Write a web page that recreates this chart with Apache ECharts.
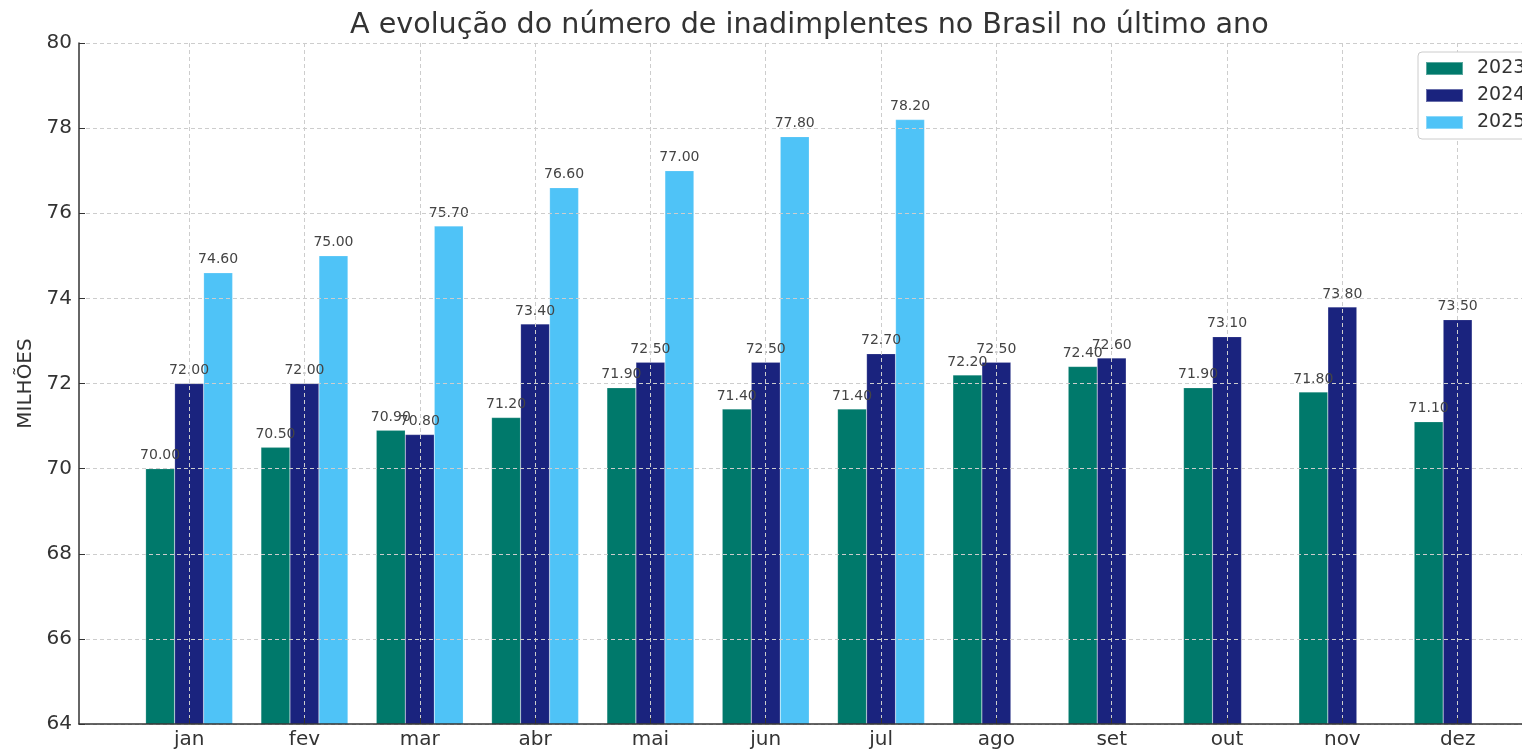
<!DOCTYPE html>
<html>
<head>
<meta charset="utf-8">
<script src="https://cdn.jsdelivr.net/npm/echarts@6/dist/echarts.min.js"></script>
<style>
html, body { margin: 0; padding: 0; background: #fff; }
#chart { width: 1522px; height: 752px; }
</style>
</head>
<body>
<div id="chart"></div>
<script>
var months = ["jan", "fev", "mar", "abr", "mai", "jun", "jul", "ago", "set", "out", "nov", "dez"];
var years = ["2023", "2024", "2025"];
var v2023 = [70.0, 70.5, 70.9, 71.2, 71.9, 71.4, 71.4, 72.2, 72.4, 71.9, 71.8, 71.1];
var v2024 = [72.0, 72.0, 70.8, 73.4, 72.5, 72.5, 72.7, 72.5, 72.6, 73.1, 73.8, 73.5];
var v2025 = [74.6, 75.0, 75.7, 76.6, 77.0, 77.8, 78.2];
var colors = ["#00796b", "#1a237e", "#4fc3f7"];

var font = "DejaVu Sans";
var chart = echarts.init(document.getElementById("chart"));

function toPoints(arr) {
	return arr.map(function(v, i) { return [i, v]; });
}

var seriesData = [v2023, v2024, v2025];
var series = [];
for (var s = 0; s < years.length; s++) {
	series.push({
		name: years[s],
		type: "bar",
		data: toPoints(seriesData[s]),
		barWidth: 29,
		barGap: "0%",
		itemStyle: { color: colors[s], borderColor: "rgba(255,255,255,0.35)", borderWidth: 0.5 },
		label: {
			show: true,
			position: "top",
			distance: 6,
			fontFamily: font,
			fontSize: 14,
			color: "#444",
			formatter: function(p) { return p.value[1].toFixed(2); }
		}
	});
}

var tickIdx = months.map(function(m, i) { return i; });

chart.setOption({
	backgroundColor: "#fff",
	animation: false,
	title: {
		text: "A evolução do número de inadimplentes no Brasil no último ano",
		left: 345,
		top: 6,
		textStyle: { fontFamily: font, fontSize: 28.6, fontWeight: "normal", color: "#333" }
	},
	legend: {
		orient: "vertical",
		left: 1418,
		top: 52,
		padding: [7, 60, 7, 7],
		itemWidth: 37,
		itemHeight: 13,
		itemGap: 8,
		backgroundColor: "#fff",
		borderColor: "#ccc",
		borderWidth: 1,
		borderRadius: 4,
		icon: "rect",
		data: years,
		textStyle: { fontFamily: font, fontSize: 19, color: "#333", padding: [0, 0, 0, 9] }
	},
	grid: { left: 79, right: 0, top: 43, bottom: 28, containLabel: false },
	xAxis: {
		type: "value",
		min: -0.955,
		max: 11.558,
		z: 3,
		axisLine: { show: true, onZero: false, lineStyle: { color: "#333", width: 1.5 } },
		axisTick: { show: true, inside: true, length: 6, customValues: tickIdx, lineStyle: { color: "#333" } },
		axisLabel: {
			customValues: tickIdx,
			margin: 6,
			fontFamily: font,
			fontSize: 20,
			color: "#333",
			formatter: function(v) { return months[Math.round(v)] || ""; }
		},
		splitLine: { show: true, lineStyle: { color: "#cdcdcd", type: [4, 3], width: 1 } }
	},
	yAxis: {
		type: "value",
		min: 64,
		max: 80,
		interval: 2,
		z: 3,
		name: "MILHÕES",
		nameLocation: "middle",
		nameGap: 41,
		nameTextStyle: { fontFamily: font, fontSize: 20, color: "#333" },
		axisLine: { show: true, onZero: false, lineStyle: { color: "#333", width: 1.5 } },
		axisTick: { show: true, inside: true, length: 6, lineStyle: { color: "#333" } },
		axisLabel: { margin: 7, fontFamily: font, fontSize: 20, color: "#333" },
		splitLine: { show: true, lineStyle: { color: "#cdcdcd", type: [4, 3], width: 1 } }
	},
	series: series
});
</script>
</body>
</html>
